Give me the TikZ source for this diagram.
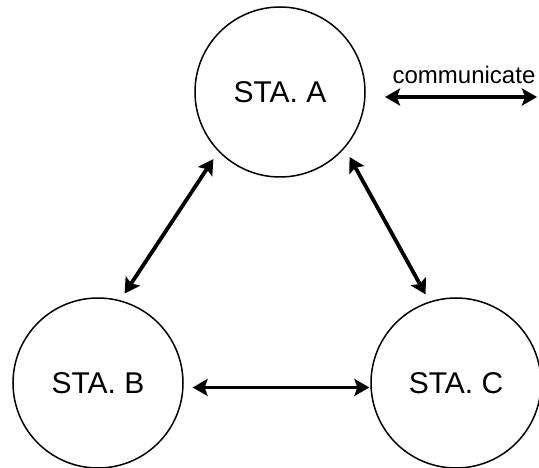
\documentclass[tikz,border=0pt]{standalone}
\usepackage{fontspec}
\setmainfont{Liberation Sans}
\usetikzlibrary{arrows.meta, positioning}

\begin{document}
\begin{tikzpicture}[
    x=1pt, y=1pt,
    station/.style={circle, draw, line width=1.5pt, minimum size=170pt, inner sep=0pt, font=\fontsize{30}{36}\selectfont},
    link/.style={{Stealth[length=15pt, width=17pt, inset=3pt]}-{Stealth[length=15pt, width=17pt, inset=3pt]}, line width=3.8pt},
    caption/.style={font=\fontsize{24}{28}\selectfont},
]
\useasboundingbox (0,0) rectangle (539,-468);

% Stations
\node[station] (staA) at (280,-92) {STA. A};
\node[station] (staB) at (98,-383) {STA. B};
\node[station] (staC) at (456,-383) {STA. C};

% Links between stations
\draw[link, shorten <=9pt, shorten >=8pt] (staA.224) -- (staB.75);
\draw[link, shorten <=10pt, shorten >=8pt] (staA.319) -- (staC.108);
\draw[link, shorten <=9pt, shorten >=1pt] (staB.357) -- (staC.183);

% Legend
\coordinate (comL) at (385,-97);
\coordinate (comR) at (537,-97);
\draw[link] (comL) -- (comR);
\node[caption] (comText) at (464,-75) {communicate};

\end{tikzpicture}
\end{document}
